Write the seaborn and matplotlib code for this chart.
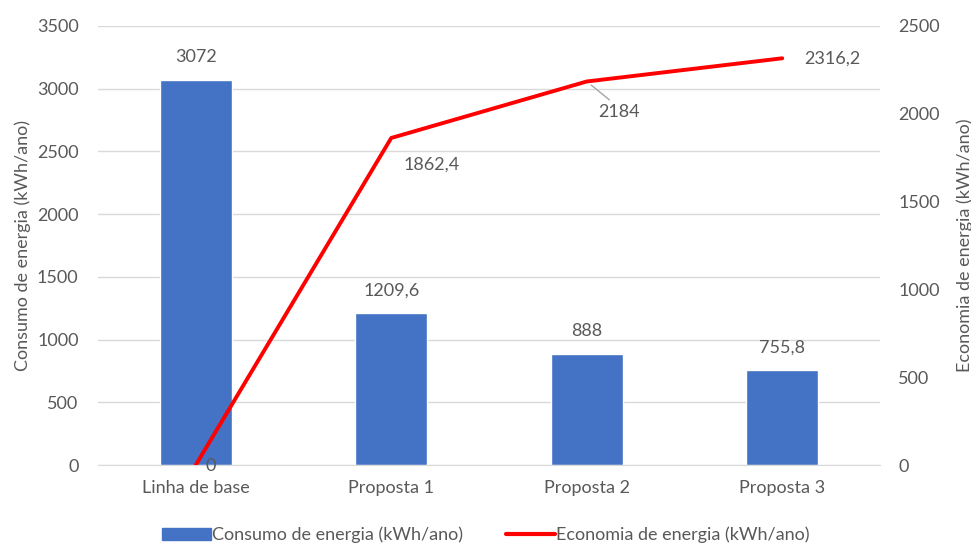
"""Consumo e economia de energia por proposta"""

import matplotlib

matplotlib.use("Agg")
import matplotlib.pyplot as plt
import numpy as np
import seaborn as sns
from matplotlib.lines import Line2D
from matplotlib.patches import Patch

categorias = ["Linha de base", "Proposta 1", "Proposta 2", "Proposta 3"]
consumo = [3072, 1209.6, 888, 755.8]
economia = [0, 1862.4, 2184, 2316.2]
label_consumo = "Consumo de energia (kWh/ano)"
label_economia = "Economia de energia (kWh/ano)"

BLUE = "#4472C4"
RED = "#FF0000"
GRAY = "#595959"
FS = 13


def fmt(v):
    return f"{v:g}".replace(".", ",")


sns.set_style("white")
plt.rcParams["font.family"] = ["Lato", "DejaVu Sans"]
plt.rcParams["font.size"] = FS

fig = plt.figure(figsize=(9.71, 5.45), dpi=100)
ax = fig.add_axes([98 / 971, 80 / 545, 782 / 971, 439 / 545])

sns.barplot(x=categorias, y=consumo, color=BLUE, width=0.37, saturation=1, ax=ax)
ax.set_xlim(-0.5, 3.5)
ax.set_ylim(0, 3500)
ax.set_yticks(np.arange(0, 3501, 500))
ax.yaxis.grid(True, color="#D9D9D9", linewidth=1)
ax.set_axisbelow(True)
ax.set_ylabel(label_consumo, color=GRAY, fontsize=FS, labelpad=4)
ax.tick_params(axis="y", colors=GRAY, labelsize=FS, length=0, pad=14)
ax.tick_params(axis="x", colors=GRAY, labelsize=FS, length=0, pad=11)
for s in ["top", "right", "left"]:
    ax.spines[s].set_visible(False)
ax.spines["bottom"].set_color("#D9D9D9")
for i, v in enumerate(consumo):
    ax.annotate(fmt(v), (i, v), xytext=(0, 16), textcoords="offset points",
                ha="center", va="center", color=GRAY, fontsize=FS)

ax2 = ax.twinx()
sns.lineplot(x=np.arange(len(categorias)), y=economia, color=RED, linewidth=2.8,
             ax=ax2)
ax2.set_xlim(ax.get_xlim())
ax2.set_ylim(0, 2500)
ax2.set_yticks(np.arange(0, 2501, 500))
ax2.set_ylabel(label_economia, color=GRAY, fontsize=FS, labelpad=12)
ax2.tick_params(axis="y", colors=GRAY, labelsize=FS, length=0, pad=13)
for s in ["top", "right", "left", "bottom"]:
    ax2.spines[s].set_visible(False)

# rótulos da linha
ax2.annotate(fmt(economia[0]), (0, economia[0]), xytext=(11, -1),
             textcoords="offset points", ha="center", va="center",
             color=GRAY, fontsize=FS)
ax2.annotate(fmt(economia[1]), (1, economia[1]), xytext=(9, -19),
             textcoords="offset points", ha="left", va="center",
             color=GRAY, fontsize=FS)
ax2.annotate(fmt(economia[2]), (2, economia[2]), xytext=(23, -22),
             textcoords="offset points", ha="center", va="center",
             color=GRAY, fontsize=FS,
             arrowprops=dict(arrowstyle="-", color="#A6A6A6", lw=1,
                             relpos=(0.4, 1.0), shrinkA=1, shrinkB=4))
ax2.annotate(fmt(economia[3]), (3, economia[3]), xytext=(16, 0),
             textcoords="offset points", ha="left", va="center",
             color=GRAY, fontsize=FS)

handles = [Patch(color=BLUE, label=label_consumo),
           Line2D([], [], color=RED, linewidth=3, label=label_economia)]
leg = fig.legend(handles=handles, loc="center", ncol=2, frameon=False,
                 bbox_to_anchor=(0.5, 10 / 545), fontsize=FS, handlelength=2.7,
                 handleheight=0.6, handletextpad=0.05, columnspacing=2.4)
for t in leg.get_texts():
    t.set_color(GRAY)

fig.savefig("out.png", dpi=100)
